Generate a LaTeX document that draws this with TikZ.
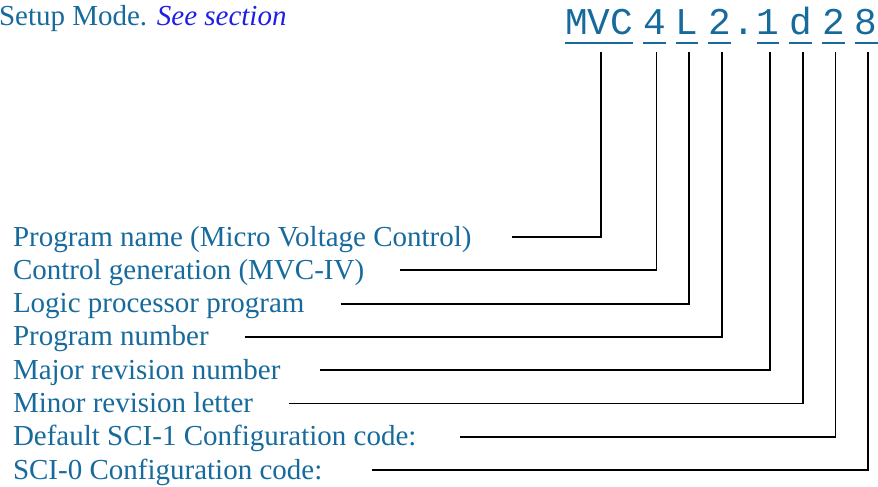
\documentclass[tikz,border=0pt]{standalone}
\usepackage{fontspec}
\setmainfont{Liberation Serif}
\newfontfamily\codefont{Liberation Mono}
\usetikzlibrary{positioning}
\definecolor{mvcblue}{RGB}{23,106,156}
\definecolor{seeblue}{RGB}{30,30,230}

\begin{document}
\begin{tikzpicture}[x=1pt, y=-1pt, line width=1.8pt,
    every node/.style={inner sep=0pt, outer sep=0pt, text=mvcblue},
    lbl/.style={anchor=base west, font=\fontsize{29}{33}\selectfont, text height=23pt, text depth=5pt},
    seg/.style={font=\codefont\fontsize{37.8}{40}\selectfont, text height=24pt, text depth=8pt}]
    \useasboundingbox (0,0) rectangle (878,487);
    % header line, cut at the left edge
    \node[lbl] (setup) at (-1,26) {Setup Mode. \textcolor{seeblue}{\itshape See section}};
    % the version code
    \node[seg, anchor=base west] at (565,35) (mvc) {MVC};
    \node[seg, right=10pt of mvc] (gen) {4};
    \node[seg, right=10pt of gen] (lp) {L};
    \node[seg, right=10pt of lp] (pnum) {2};
    \node[seg, right=1.5pt of pnum] (dot) {.};
    \node[seg, right=1.5pt of dot] (maj) {1};
    \node[seg, right=10pt of maj] (mnr) {d};
    \node[seg, right=10pt of mnr] (sci1) {2};
    \node[seg, right=10pt of sci1] (sci0) {8};
    \foreach \s in {mvc,gen,lp,pnum,maj,mnr,sci1,sci0}
        \draw[mvcblue] (\s.south west) -- (\s.south east);
    % what each part means
    \node[lbl] at (13,246) (lname) {Program name (Micro Voltage Control)};
    \node[lbl] at (13,279.3) (lgen) {Control generation (MVC-IV)};
    \node[lbl] at (13,312.6) (llp) {Logic processor program};
    \node[lbl] at (13,345.9) (lpnum) {Program number};
    \node[lbl] at (13,379.2) (lmaj) {Major revision number};
    \node[lbl] at (13,412.5) (lmnr) {Minor revision letter};
    \node[lbl] at (13,445.8) (lsci1) {Default SCI-1 Configuration code:};
    \node[lbl] at (13,479.1) (lsci0) {SCI-0 Configuration code:};
    \foreach \l/\s/\g in {lname/mvc/40,lgen/gen/36,llp/lp/36,lpnum/pnum/36,lmaj/maj/40,lmnr/mnr/36,lsci1/sci1/44,lsci0/sci0/50}
        \draw ([xshift=\g pt]\l.east) -| ([xshift=2pt,yshift=-9pt]\s.south);
\end{tikzpicture}
\end{document}
